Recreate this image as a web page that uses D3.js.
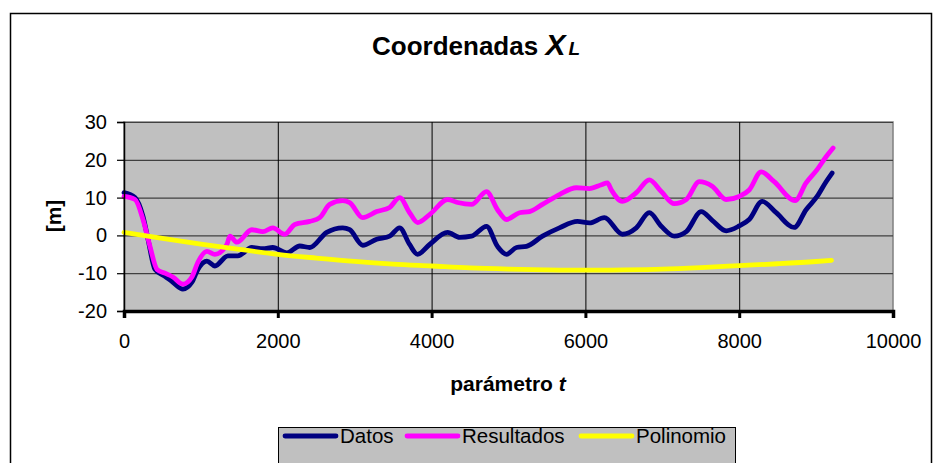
<!DOCTYPE html>
<html><head><meta charset="utf-8">
<script src="https://cdn.jsdelivr.net/npm/d3@7"></script>
<style>body{margin:0;background:#fff}svg{display:block;font-family:"Liberation Sans",Arial,sans-serif}</style>
</head><body><svg id="c" width="935" height="463"></svg>
<script>
const tDatos = [0,143,247,312,403,532,636,766,883,961,1078,1182,1351,1481,1662,1805,1935,2117,2286,2416,2636,2844,2935,3104,3286,3455,3584,3714,3818,3974,4208,4364,4519,4714,4857,4974,5104,5234,5442,5662,5896,6052,6247,6481,6662,6831,6987,7156,7312,7506,7649,7831,8000,8130,8299,8481,8714,8870,9013,9130,9208];
const vDatos = [11.3,10,5,-1,-9,-10.8,-12.4,-14.2,-12.4,-9,-6.8,-8.1,-5.4,-5.4,-3.2,-3.5,-3.2,-4.6,-2.8,-3.2,0.8,2,1.5,-2.6,-1,-0.2,2,-2.4,-5,-2.4,0.8,-0.5,-0.2,2.4,-2.9,-5,-3.2,-2.9,-0.2,2,3.7,3.3,4.7,0.3,2,6,2.4,-0.2,1,6.3,4,1.2,2.5,4.2,9,6,2.1,6.8,10.3,14.2,16.5];
const tResult = [0,143,247,338,429,532,636,766,883,961,1078,1182,1338,1377,1468,1662,1805,1935,2091,2221,2416,2545,2675,2844,2935,3104,3286,3455,3584,3714,3818,3974,4208,4338,4519,4714,4857,4974,5143,5273,5442,5662,5883,6052,6208,6286,6338,6481,6662,6831,6987,7156,7312,7481,7649,7831,8000,8130,8286,8455,8727,8870,9013,9130,9221];
const vResult = [10.3,9.5,4.2,-2.9,-9,-10,-11,-12.9,-11,-7.1,-4.2,-5,-2.4,-0.2,-1.8,1.5,1,2,0.3,2.9,3.7,4.7,8.2,9.2,8.7,4.7,6.3,7.4,10,6,3.4,5.5,9.5,8.7,8.2,11.6,6.8,4.2,6,6.3,8.2,10.8,12.6,12.4,13.4,13.9,12,9,11.3,14.7,11.6,8.4,9.5,14.2,13,9.5,10.3,12,16.8,14.2,9.2,13.9,17.4,20.8,23.1];
const tPoli = [0,500,1000,1500,2000,2500,3000,3500,4000,4500,5000,5500,6000,6500,7000,7500,8000,8500,9000,9200];
const vPoli = [0.8,-0.8,-2.3,-3.7,-5.0,-6.0,-6.9,-7.6,-8.1,-8.6,-8.9,-9.1,-9.2,-9.1,-8.9,-8.5,-8.0,-7.5,-6.9,-6.6];
const xTicks = [0,2000,4000,6000,8000,10000];
const yTicks = [-20,-10,0,10,20,30];
const seriesNames = ["Datos","Resultados","Polinomio"];
const seriesColors = ["#000080","#FF00FF","#FFFF00"];

const svg = d3.select("#c");
const x = d3.scaleLinear().domain([0,10000]).range([124,893]);
const y = d3.scaleLinear().domain([-20,30]).range([311,122]);

// outer chart border
svg.append("rect").attr("x",10.5).attr("y",13.5).attr("width",921).attr("height",470)
  .attr("fill","#fff").attr("stroke","#000").attr("stroke-width",1.5);

// plot area
svg.append("rect").attr("x",x(0)).attr("y",y(30)).attr("width",x(10000)-x(0)).attr("height",y(-20)-y(30))
  .attr("fill","#C0C0C0").attr("stroke","#808080").attr("stroke-width",1.5);

// gridlines
svg.append("g").attr("transform",`translate(${x(0)},0)`)
  .call(d3.axisLeft(y).tickValues(yTicks).tickSize(-(x(10000)-x(0))).tickFormat(""))
  .call(g=>g.select(".domain").remove())
  .call(g=>g.selectAll("line").attr("stroke","#404040").attr("stroke-width",1.2));
svg.append("g").attr("transform",`translate(0,${y(-20)})`)
  .call(d3.axisBottom(x).tickValues(xTicks.slice(1,-1)).tickSize(-(y(-20)-y(30))).tickFormat(""))
  .call(g=>g.select(".domain").remove())
  .call(g=>g.selectAll("line").attr("stroke","#000").attr("stroke-width",1));

// series
const mk = d3.line().x(d=>x(d[0])).y(d=>y(d[1])).curve(d3.curveMonotoneX);
const data = [d3.zip(tDatos,vDatos), d3.zip(tResult,vResult), d3.zip(tPoli,vPoli)];
data.forEach((d,i)=>{
  svg.append("path").datum(d).attr("d",mk).attr("fill","none")
    .attr("stroke",seriesColors[i]).attr("stroke-width",4.8)
    .attr("stroke-linejoin","round").attr("stroke-linecap","round");
});

// y axis
const ya = svg.append("g").attr("transform",`translate(${x(0)},0)`)
  .call(d3.axisLeft(y).tickValues(yTicks).tickSize(7).tickPadding(10).tickFormat(d=>String(d)));
ya.select(".domain").attr("stroke","#000").attr("stroke-width",1.5);
ya.selectAll("line").attr("stroke","#000").attr("stroke-width",1.2);
ya.selectAll("text").attr("font-size",20).attr("fill","#000").attr("font-family","'Liberation Sans',Arial,sans-serif");

// x axis
const xa = svg.append("g").attr("transform",`translate(0,${y(-20)})`)
  .call(d3.axisBottom(x).tickValues(xTicks).tickSize(7).tickPadding(16).tickFormat(d=>String(d)));
xa.select(".domain").attr("stroke","#000").attr("stroke-width",3.5);
xa.selectAll("line").attr("stroke","#000").attr("stroke-width",3);
xa.selectAll("text").attr("font-size",20).attr("fill","#000").attr("font-family","'Liberation Sans',Arial,sans-serif");

// title
const title = svg.append("text").attr("x",476).attr("y",55).attr("text-anchor","middle")
  .attr("font-weight","bold").attr("font-size",26);
title.append("tspan").text("Coordenadas ");
title.append("tspan").attr("font-style","italic").attr("font-size",30).text("X");
title.append("tspan").attr("font-style","italic").attr("font-size",19).attr("dx",3).text("L");

// axis titles
const xt = svg.append("text").attr("x",508).attr("y",391).attr("text-anchor","middle")
  .attr("font-weight","bold").attr("font-size",21);
xt.append("tspan").text("parámetro ");
xt.append("tspan").attr("font-style","italic").text("t");
svg.append("text").attr("transform","translate(61,216) rotate(-90)").attr("text-anchor","middle")
  .attr("font-weight","bold").attr("font-size",21).text("[m]");

// legend
const lg = svg.append("g");
lg.append("rect").attr("x",278.5).attr("y",427.5).attr("width",457).attr("height",50)
  .attr("fill","#C0C0C0").attr("stroke","#000").attr("stroke-width",1);
const lx = [285,407,581];
seriesNames.forEach((n,i)=>{
  lg.append("line").attr("x1",lx[i]).attr("x2",lx[i]+51).attr("y1",436).attr("y2",436)
    .attr("stroke",seriesColors[i]).attr("stroke-width",4.8).attr("stroke-linecap","round");
  lg.append("text").attr("x",lx[i]+55).attr("y",443).attr("font-size",20.5).attr("fill","#000").text(n);
});
</script></body></html>
